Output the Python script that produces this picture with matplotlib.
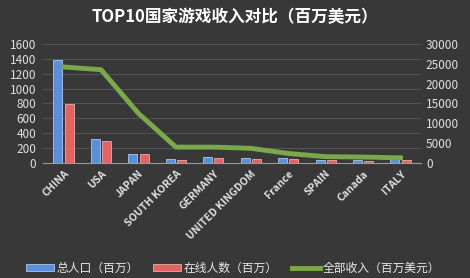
import numpy as np
import matplotlib.pyplot as plt

plt.rcParams['font.family'] = ['Noto Sans CJK SC', 'DejaVu Sans']

countries = ['CHINA', 'USA', 'JAPAN', 'SOUTH KOREA', 'GERMANY', 'UNITED KINGDOM',
             'France', 'SPAIN', 'Canada', 'ITALY']
population = [1380, 320, 127, 50, 81, 64, 66, 46, 35, 60]
online = [790, 290, 115, 45, 70, 58, 55, 40, 30, 35]
revenue = [24200, 23500, 12500, 4000, 4000, 3700, 2400, 1600, 1500, 1300]

bg = '#383838'
fig = plt.figure(figsize=(4.7, 2.78), dpi=100, facecolor=bg)
ax = fig.add_axes([0.0915, 0.4137, 0.8045, 0.4283], facecolor=bg)
ax2 = ax.twinx()

x = np.arange(len(countries))
w = 0.24
ax.bar(x - 0.15, population, w, color='#5b8fd9', edgecolor='#a8c8f0', lw=0.6,
       label='总人口（百万）', zorder=3)
ax.bar(x + 0.15, online, w, color='#e06464', edgecolor='#f0a8a8', lw=0.6,
       label='在线人数（百万）', zorder=3)
ax2.plot(x, revenue, color='#7aa84a', lw=3.5, label='全部收入（百万美元）',
         solid_joinstyle='round', zorder=4)

ax.set_xlim(-0.55, len(countries) - 0.45)
ax.set_ylim(0, 1600)
ax.set_yticks(range(0, 1601, 200))
ax2.set_ylim(0, 30000)
ax2.set_yticks(range(0, 30001, 5000))

ax.grid(axis='y', color='#555555', lw=0.7, zorder=0)
ax.set_axisbelow(True)
for a in (ax, ax2):
    for s in a.spines.values():
        s.set_visible(False)
    a.tick_params(length=0, colors='#e0e0e0', labelsize=8.5)
ax.tick_params(axis='y', pad=5)
ax.spines['bottom'].set_visible(True)
ax.spines['bottom'].set_color('#9a9a9a')

ax.set_xticks(x)
ax.set_xticklabels(countries, rotation=45, ha='right', rotation_mode='anchor',
                   fontsize=7.5, fontweight='bold', color='#e0e0e0')
ax.tick_params(axis='x', pad=4)

fig.text(0.5, 0.94, 'TOP10国家游戏收入对比（百万美元）', ha='center', va='center',
         color='white', fontsize=12, fontweight='bold')

h1, l1 = ax.get_legend_handles_labels()
h2, l2 = ax2.get_legend_handles_labels()
fig.legend(h1 + h2, l1 + l2, loc='center', bbox_to_anchor=(0.495, 0.035), ncol=3,
           frameon=False, fontsize=8.5, labelcolor='#e8e8e8', handlelength=2.4,
           handleheight=0.6, columnspacing=1.2, handletextpad=0.2,
           borderpad=0, borderaxespad=0)

fig.savefig('out.png', facecolor=bg)
